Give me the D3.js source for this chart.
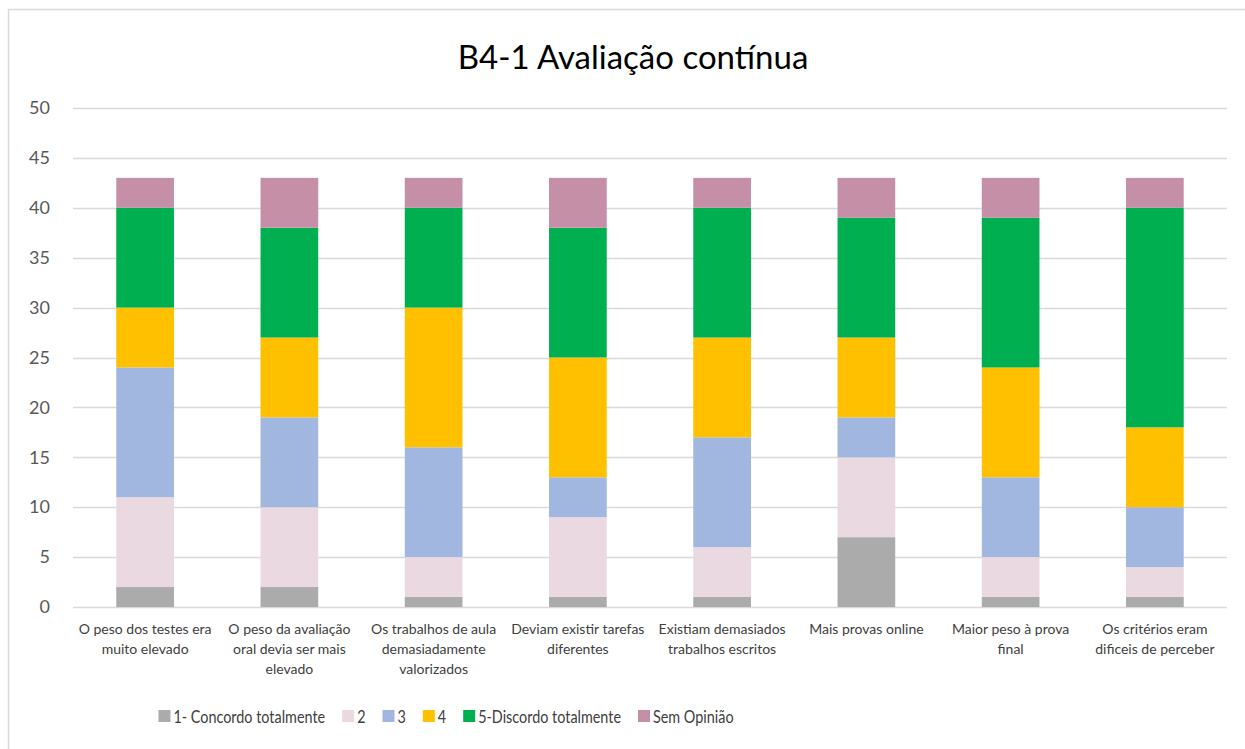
<!DOCTYPE html>
<html>
<head>
<meta charset="utf-8">
<script src="https://cdn.jsdelivr.net/npm/d3@7"></script>
<style>
  body { margin: 0; background: #fff; }
  svg { font-family: Lato, "Open Sans", sans-serif; }
</style>
</head>
<body>
<div class="main"></div>
<script>
// categorias (eixo x), quebradas em linhas como no original
let categories = [
    ["O peso dos testes era", "muito elevado"],
    ["O peso da avaliação", "oral devia ser mais", "elevado"],
    ["Os trabalhos de aula", "demasiadamente", "valorizados"],
    ["Deviam existir tarefas", "diferentes"],
    ["Existiam demasiados", "trabalhos escritos"],
    ["Mais provas online"],
    ["Maior peso à prova", "final"],
    ["Os critérios eram", "dificeis de perceber"]
]

let seriesNames = ["1- Concordo totalmente", "2", "3", "4", "5-Discordo totalmente", "Sem Opinião"]
let seriesColors = ["#ABABAB", "#EAD9E1", "#A1B7E0", "#FFC000", "#00AF50", "#C48FA7"]

let concordo = [2, 2, 1, 1, 1, 7, 1, 1]
let dois = [9, 8, 4, 8, 5, 8, 4, 3]
let tres = [13, 9, 11, 4, 11, 4, 8, 6]
let quatro = [6, 8, 14, 12, 10, 8, 11, 8]
let discordo = [10, 11, 10, 13, 13, 12, 15, 22]
let semOpiniao = [3, 5, 3, 5, 3, 4, 4, 3]

let yTicks = [0, 5, 10, 15, 20, 25, 30, 35, 40, 45, 50]

let width = 1245;
let height = 749;
let margin = { left: 73, right: 18, top: 108, bottom: 142 };

let allSeries = [concordo, dois, tres, quatro, discordo, semOpiniao];
let table = categories.map(function (c, i) {
    let row = { idx: i };
    seriesNames.forEach(function (s, j) { row[s] = allSeries[j][i]; });
    return row;
});

let svg = d3.select('.main')
    .append("svg")
    .attr("width", width)
    .attr("height", height);

// moldura
svg.append("rect")
    .attr("x", 8.5).attr("y", 9.5)
    .attr("width", width).attr("height", height)
    .attr("fill", "none")
    .attr("stroke", "#D9D9D9")
    .attr("stroke-width", 1.5);

svg.append("text")
    .attr("x", 633)
    .attr("y", 69)
    .attr("text-anchor", "middle")
    .attr("font-size", 33)
    .attr("fill", "#000")
    .text("B4-1 Avaliação contínua");

let x = d3.scaleBand()
    .domain(d3.range(categories.length))
    .range([margin.left, width - margin.right])
    .paddingInner(0.6)
    .paddingOuter(0.3);

let y = d3.scaleLinear()
    .domain([0, 50])
    .range([height - margin.bottom, margin.top]);

// grelha
svg.append("g")
    .selectAll("line")
    .data(yTicks)
    .enter().append("line")
    .attr("x1", margin.left)
    .attr("x2", width - margin.right)
    .attr("y1", d => Math.round(y(d)) + 0.5)
    .attr("y2", d => Math.round(y(d)) + 0.5)
    .attr("stroke", "#D9D9D9")
    .attr("stroke-width", 1.3);

let yAxis = svg.append("g")
    .attr("transform", `translate(${margin.left - 23},0)`)
    .call(d3.axisLeft(y).tickValues(yTicks).tickSize(0).tickPadding(0));
yAxis.select(".domain").remove();
yAxis.selectAll("text")
    .attr("font-size", 18)
    .attr("font-family", "Lato, 'Open Sans', sans-serif")
    .attr("fill", "#595959");

let stack = d3.stack().keys(seriesNames);
let stacked = stack(table);

svg.append("g")
    .selectAll("g")
    .data(stacked)
    .enter().append("g")
    .attr("fill", (d, i) => seriesColors[i])
    .selectAll("rect")
    .data(d => d)
    .enter().append("rect")
    .attr("x", d => x(d.data.idx))
    .attr("width", x.bandwidth())
    .attr("y", d => y(d[1]))
    .attr("height", d => y(d[0]) - y(d[1]));

// rótulos das categorias
let catLabels = svg.append("g")
    .selectAll("text")
    .data(categories)
    .enter().append("text")
    .attr("x", (d, i) => x(i) + x.bandwidth() / 2)
    .attr("y", 634)
    .attr("text-anchor", "middle")
    .attr("font-size", 14)
    .attr("fill", "#404040");

catLabels.selectAll("tspan")
    .data(d => d)
    .enter().append("tspan")
    .attr("x", function () { return d3.select(this.parentNode).attr("x"); })
    .attr("dy", (d, i) => i === 0 ? 0 : 20)
    .text(d => d);

// legenda: texto um pouco condensado (parecido com Calibri), posições pela largura medida
let squeeze = 0.8;
let legend = svg.append("g");
let items = legend.selectAll("g")
    .data(seriesNames)
    .enter().append("g");

items.append("rect")
    .attr("x", 0).attr("y", -6)
    .attr("width", 12).attr("height", 12)
    .attr("fill", (d, i) => seriesColors[i]);

items.append("text")
    .attr("transform", `translate(15,7) scale(${squeeze},1)`)
    .attr("font-size", 18)
    .attr("fill", "#404040")
    .text(d => d);

let cursor = 0;
items.each(function () {
    let w = d3.select(this).select("text").node().getComputedTextLength() * squeeze;
    d3.select(this).attr("data-x", cursor);
    cursor += 15 + w + 17;
});
let total = cursor - 17;
let startX = 446 - total / 2;
items.attr("transform", function () {
    return `translate(${startX + (+d3.select(this).attr("data-x"))},716)`;
});
</script>
</body>
</html>
